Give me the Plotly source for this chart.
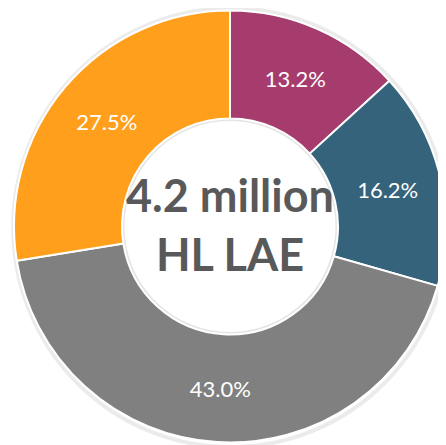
import plotly.graph_objects as go

# slice shares (%), clockwise from 12 o'clock
shares = [13.2, 16.2, 43.0, 27.5]
share_labels = ["13.2%", "16.2%", "43.0%", "27.5%"]
slice_names = ["A", "B", "C", "D"]
slice_colors = ["#A63B6D", "#34637B", "#808080", "#FF9F1C"]
center_text = "4.2 million<br>HL LAE"

fig = go.Figure()

fig.add_trace(go.Pie(
    labels=slice_names,
    values=shares,
    text=share_labels,
    textinfo="text",
    textposition="inside",
    insidetextorientation="horizontal",
    textfont=dict(family="Lato", size=22, color="white"),
    marker=dict(colors=slice_colors, line=dict(color="white", width=2)),
    hole=0.5,
    sort=False,
    direction="clockwise",
    rotation=0,
    showlegend=False,
    hoverinfo="label+value",
))

# faint drop shadow round the ring
fig.add_shape(type="circle", xref="paper", yref="paper",
              x0=-0.002, x1=1.006, y0=-0.007, y1=1.002,
              line=dict(color="rgba(0,0,0,0.08)", width=4), layer="below")
# soft shadow just inside the hole
fig.add_shape(type="circle", xref="paper", yref="paper",
              x0=0.25, x1=0.75, y0=0.2517, y1=0.7483,
              line=dict(color="rgba(0,0,0,0.10)", width=5), layer="below")

fig.add_annotation(
    text=center_text, x=0.5, y=0.505, xref="paper", yref="paper",
    showarrow=False,
    font=dict(family="Lato", size=45, color="#595959", weight="bold"),
)

# the page body adds 8px, so margins are trimmed to keep the ring in place
fig.update_layout(
    width=446, height=445,
    margin=dict(l=6, r=8, t=1, b=9),
    paper_bgcolor="white",
    plot_bgcolor="white",
)

fig.write_html("out.html")
